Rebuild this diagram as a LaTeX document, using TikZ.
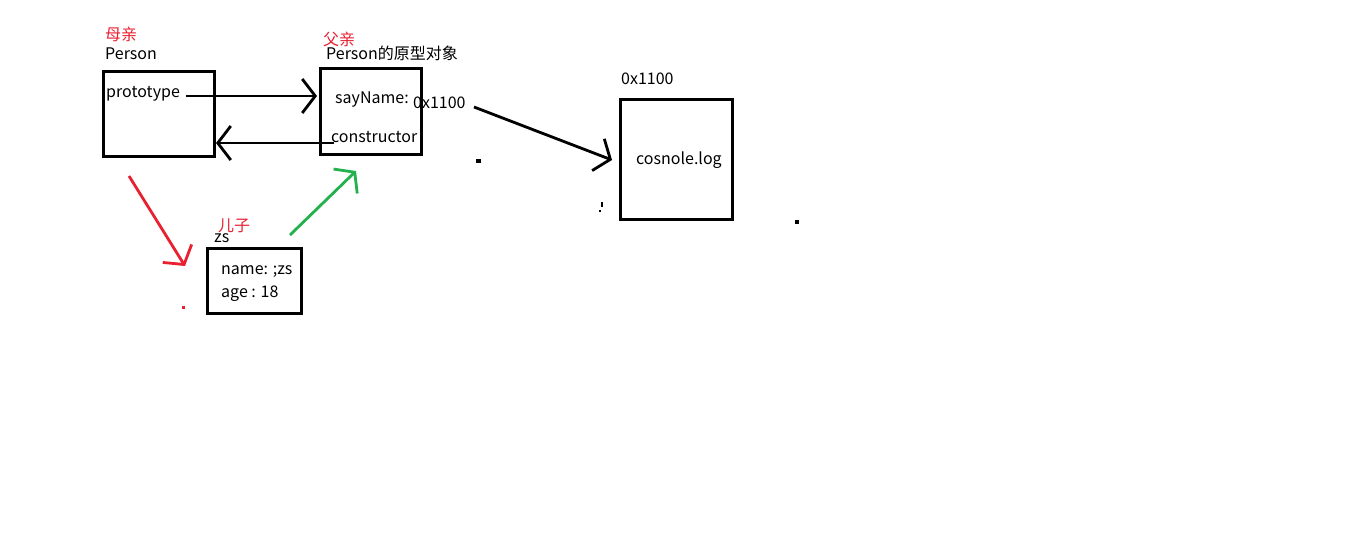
\documentclass[tikz,border=0pt]{standalone}
\usepackage{fontspec}
\setmainfont{Noto Sans CJK SC}
\usepackage{tikz}
\usetikzlibrary{positioning,arrows.meta}
\definecolor{inkred}{RGB}{232,32,48}
\definecolor{inkgreen}{RGB}{34,177,76}

\begin{document}
\begin{tikzpicture}[
    x=1pt, y=-1pt,
    box/.style={
        rectangle, draw=black, line width=2.8pt, inner sep=0pt, anchor=north west
    },
    txt/.style={
        inner sep=0pt, anchor=west, font=\fontsize{16}{19}\selectfont
    },
    note/.style={
        txt, text=inkred
    },
    link/.style={
        line width=2.8pt, -{Straight Barb[length=13pt, width=34pt, line width=2.8pt]}
    }
]
    \useasboundingbox [fill=white] (0,0) rectangle (1360,544);

    % Person
    \node (per) [box, minimum width=111, minimum height=85] at (102,70) {};
    \node (pername) [txt] at (105,54) {Person};
    \node (mum) [note] at (105,34) {母亲};
    \node (pro) [txt] at (106,94) {prototype};

    % prototype object
    \node (obj) [box, minimum width=101, minimum height=86] at (319,67) {};
    \node (objname) [txt] at (326,53) {Person的原型对象};
    \node (dad) [note] at (323,39) {父亲};
    \node (say) [txt] at (335,100) {sayName:};
    \node (adr) [txt] at (413,103) {0x1100};
    \node (con) [txt] at (331,137) {constructor};

    % function
    \node (fun) [box, minimum width=112, minimum height=120] at (619,98) {};
    \node (funadr) [txt] at (621,79) {0x1100};
    \node (log) [txt] at (636,160) {cosnole.log};

    % zs
    \node (zs) [box, minimum width=94, minimum height=65] at (206,247) {};
    \node (zsname) [txt] at (214,238) {zs};
    \node (son) [note] at (218,226) {儿子};
    \node (nam) [txt] at (221,272) {name: ;zs};
    \node (age) [txt] at (221,294) {age : 18};

    \coordinate (prostart) at (186,96);
    \coordinate (proend) at (317,96);
    \coordinate (constart) at (334,143);
    \coordinate (conend) at (216,143);
    \coordinate (adrstart) at (474,107);
    \coordinate (adrend) at (612,160);
    \coordinate (redtop) at (129,176);
    \coordinate (redend) at (185,266);
    \coordinate (grntop) at (290,235);
    \coordinate (grnend) at (356,171);

    \draw [link] (prostart) -- (proend);
    \draw [link] (constart) -- (conend);
    \draw [link] (adrstart) -- (adrend);
    \draw [link, draw=inkred] (redtop) -- (redend);
    \draw [link, draw=inkgreen] (grntop) -- (grnend);

    % stray marks
    \fill (476,159) rectangle ++(5,4);
    \fill (601,202) rectangle ++(2,5);
    \fill (599,210) rectangle ++(2,2);
    \fill (795,220) rectangle ++(4,4);
    \fill [inkred] (182,306) rectangle ++(3,3);
\end{tikzpicture}
\end{document}
